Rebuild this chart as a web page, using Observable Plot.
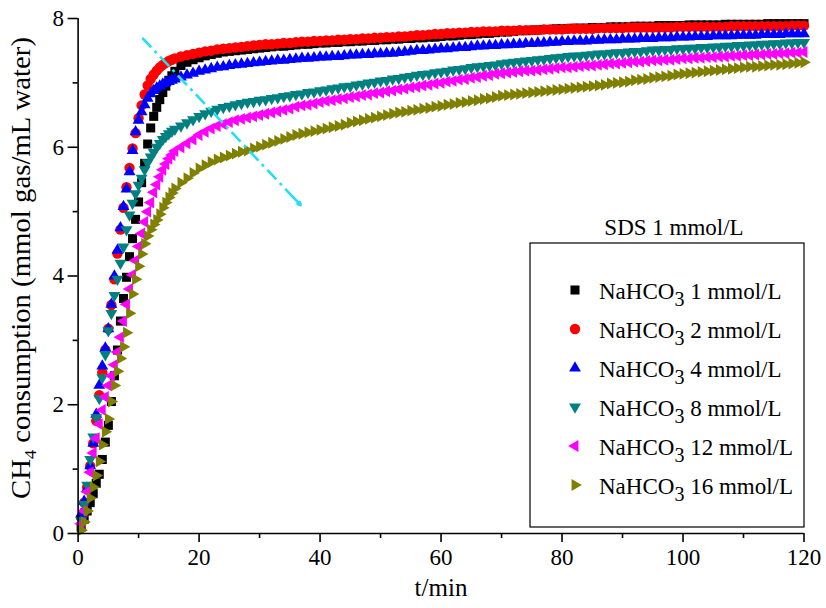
<!DOCTYPE html>
<html><head><meta charset="utf-8">
<script src="https://cdn.jsdelivr.net/npm/d3@7"></script>
<script src="https://cdn.jsdelivr.net/npm/@observablehq/plot@0.6"></script>
<style>
html,body{margin:0;padding:0;background:#fff;}
#chart{position:relative;width:826px;height:608px;overflow:hidden;}
</style></head><body><div id="chart"></div>
<script>
// time (min)
const times = [0.5,1,1.5,2,2.5,3,3.5,4,4.5,5,5.5,6,6.5,7,7.5,8,8.5,9,9.5,10,10.5,11,11.5,12,12.5,13,13.5,14,14.5,15,15.5,16,
17,18,19,20,21,22,23,24,25,26,27,28,29,30,31,32,33,34,35,36,37,38,39,40,41,42,43,44,45,46,47,48,49,50,
51,52,53,54,55,56,57,58,59,60,61,62,63,64,65,66,67,68,69,70,71,72,73,74,75,76,77,78,79,80,81,82,83,84,85,86,87,88,89,90,
91,92,93,94,95,96,97,98,99,100,101,102,103,104,105,106,107,108,109,110,111,112,113,114,115,116,117,118,119,120];

// CH4 consumption (mmol gas / mL water)
const nahco3_1 = [0.10,0.22,0.35,0.48,0.62,0.78,0.92,1.15,1.42,1.68,2.05,2.45,2.85,3.30,3.65,3.98,4.30,4.58,4.88,5.15,5.45,5.75,6.05,6.30,6.48,6.62,6.74,6.85,6.95,7.04,7.11,7.18,
7.27,7.32,7.36,7.39,7.42,7.44,7.46,7.48,7.49,7.50,
7.51,7.52,7.53,7.54,7.55,7.56,7.57,7.57,7.58,7.59,
7.60,7.60,7.61,7.62,7.62,7.63,7.63,7.64,7.64,7.65,
7.65,7.66,7.66,7.67,7.67,7.68,7.68,7.69,7.69,7.70,
7.70,7.71,7.71,7.72,7.73,7.73,7.74,7.75,7.75,7.76,
7.77,7.77,7.78,7.79,7.79,7.80,7.81,7.81,7.82,7.82,
7.83,7.83,7.84,7.84,7.84,7.85,7.85,7.85,7.86,7.86,
7.86,7.87,7.87,7.87,7.87,7.88,7.88,7.88,7.88,7.89,
7.89,7.89,7.89,7.89,7.90,7.90,7.90,7.90,7.90,7.90,
7.91,7.91,7.91,7.91,7.91,7.91,7.91,7.92,7.92,7.92,
7.92,7.92,7.92,7.92];
const nahco3_2 = [0.25,0.48,0.72,1.05,1.40,1.75,2.15,2.50,2.85,3.18,3.55,3.95,4.35,4.72,5.06,5.38,5.68,5.98,6.22,6.45,6.65,6.82,6.96,7.06,7.13,7.19,7.24,7.28,7.31,7.34,7.36,7.38,
7.41,7.43,7.45,7.47,7.49,7.50,7.52,7.53,7.54,7.55,
7.56,7.57,7.58,7.59,7.60,7.60,7.61,7.62,7.62,7.63,
7.64,7.64,7.65,7.65,7.66,7.66,7.67,7.67,7.68,7.68,
7.69,7.69,7.70,7.70,7.71,7.71,7.72,7.72,7.73,7.74,
7.74,7.75,7.76,7.76,7.77,7.77,7.78,7.78,7.79,7.79,
7.80,7.80,7.80,7.81,7.81,7.81,7.82,7.82,7.82,7.82,
7.83,7.83,7.83,7.83,7.84,7.84,7.84,7.84,7.84,7.85,
7.85,7.85,7.85,7.85,7.86,7.86,7.86,7.86,7.86,7.86,
7.86,7.86,7.87,7.87,7.87,7.87,7.87,7.87,7.87,7.87,
7.87,7.88,7.88,7.88,7.88,7.88,7.88,7.88,7.88,7.88,
7.88,7.89,7.89,7.89];
const nahco3_4 = [0.30,0.50,0.70,1.05,1.40,1.85,2.30,2.60,2.88,3.18,3.56,4.00,4.40,4.75,5.08,5.35,5.62,5.95,6.24,6.42,6.55,6.66,6.76,6.83,6.88,6.92,6.95,6.98,7.00,7.02,7.04,7.06,
7.09,7.12,7.15,7.18,7.20,7.22,7.24,7.25,7.27,7.28,
7.29,7.30,7.31,7.32,7.33,7.34,7.35,7.35,7.36,7.37,
7.38,7.38,7.39,7.40,7.40,7.41,7.41,7.42,7.43,7.43,
7.44,7.44,7.45,7.45,7.46,7.46,7.47,7.48,7.49,7.50,
7.50,7.51,7.52,7.53,7.53,7.54,7.55,7.55,7.56,7.57,
7.57,7.58,7.58,7.59,7.59,7.60,7.60,7.61,7.61,7.62,
7.62,7.63,7.63,7.64,7.64,7.65,7.65,7.65,7.66,7.66,
7.67,7.67,7.67,7.68,7.68,7.68,7.69,7.69,7.69,7.70,
7.70,7.70,7.71,7.71,7.71,7.72,7.72,7.72,7.73,7.73,
7.73,7.73,7.74,7.74,7.74,7.74,7.75,7.75,7.75,7.75,
7.76,7.76,7.76,7.76];
const nahco3_8 = [0.20,0.45,0.75,1.15,1.50,1.80,2.10,2.42,2.78,3.15,3.42,3.70,3.95,4.20,4.45,4.72,4.95,5.13,5.28,5.41,5.52,5.65,5.76,5.85,5.92,6.00,6.06,6.12,6.17,6.21,6.25,6.28,
6.33,6.38,6.43,6.48,6.52,6.56,6.59,6.62,6.64,6.66,
6.68,6.70,6.71,6.73,6.74,6.76,6.77,6.79,6.80,6.82,
6.83,6.85,6.86,6.88,6.89,6.91,6.92,6.94,6.95,6.97,
6.98,7.00,7.01,7.03,7.04,7.06,7.07,7.09,7.10,7.12,
7.13,7.14,7.16,7.17,7.18,7.20,7.21,7.22,7.24,7.25,
7.26,7.27,7.28,7.30,7.31,7.32,7.33,7.34,7.35,7.36,
7.37,7.38,7.39,7.40,7.41,7.42,7.42,7.43,7.44,7.45,
7.45,7.46,7.47,7.47,7.48,7.49,7.49,7.50,7.51,7.51,
7.52,7.52,7.53,7.53,7.54,7.54,7.55,7.55,7.56,7.56,
7.57,7.57,7.58,7.58,7.59,7.59,7.60,7.60,7.61,7.61,
7.62,7.62,7.63,7.63];
const nahco3_12 = [0.15,0.35,0.65,0.95,1.25,1.48,1.70,1.92,2.12,2.30,2.45,2.62,2.82,3.05,3.30,3.56,3.80,4.02,4.24,4.46,4.66,4.84,5.00,5.14,5.30,5.42,5.54,5.65,5.74,5.82,5.88,5.94,
6.00,6.06,6.12,6.19,6.24,6.29,6.33,6.36,6.39,6.42,
6.44,6.46,6.48,6.50,6.52,6.54,6.56,6.58,6.60,6.63,
6.65,6.66,6.68,6.70,6.72,6.73,6.75,6.76,6.78,6.79,
6.81,6.82,6.84,6.85,6.87,6.88,6.90,6.91,6.93,6.94,
6.96,6.97,6.99,7.00,7.02,7.03,7.05,7.06,7.08,7.09,
7.11,7.12,7.14,7.15,7.16,7.17,7.18,7.19,7.19,7.20,
7.21,7.22,7.23,7.24,7.24,7.25,7.26,7.27,7.27,7.28,
7.29,7.30,7.30,7.31,7.32,7.33,7.33,7.34,7.35,7.35,
7.36,7.36,7.37,7.38,7.38,7.39,7.39,7.40,7.40,7.41,
7.41,7.42,7.42,7.43,7.43,7.44,7.44,7.45,7.45,7.46,
7.46,7.47,7.47,7.48];
const nahco3_16 = [0.05,0.18,0.35,0.55,0.72,0.90,1.12,1.38,1.58,1.78,2.05,2.30,2.52,2.72,2.90,3.12,3.42,3.72,3.95,4.15,4.34,4.50,4.62,4.72,4.80,4.87,4.96,5.06,5.14,5.22,5.29,5.36,
5.45,5.52,5.60,5.67,5.72,5.77,5.81,5.84,5.87,5.90,
5.93,5.95,5.98,6.01,6.04,6.07,6.10,6.13,6.16,6.19,
6.21,6.23,6.25,6.27,6.29,6.31,6.33,6.35,6.38,6.40,
6.42,6.44,6.46,6.48,6.50,6.52,6.54,6.55,6.57,6.58,
6.60,6.61,6.63,6.64,6.66,6.67,6.69,6.70,6.72,6.73,
6.75,6.76,6.78,6.80,6.81,6.82,6.83,6.84,6.85,6.86,
6.87,6.88,6.89,6.90,6.91,6.92,6.93,6.94,6.95,6.96,
6.97,6.99,7.00,7.01,7.02,7.04,7.05,7.06,7.08,7.09,
7.10,7.11,7.13,7.14,7.15,7.16,7.17,7.18,7.19,7.20,
7.21,7.22,7.23,7.24,7.25,7.25,7.26,7.27,7.28,7.28,
7.29,7.30,7.31,7.32];

const seriesValues = [nahco3_1, nahco3_2, nahco3_4, nahco3_8, nahco3_12, nahco3_16];
const seriesConc = ["1 mmol/L", "2 mmol/L", "4 mmol/L", "8 mmol/L", "12 mmol/L", "16 mmol/L"];
const seriesColors = ["#000000", "#ff0000", "#0000ff", "#008080", "#ff00ff", "#808000"];
const seriesSymbols = ["square", "circle", "triangle", "triangle", "triangle", "triangle"];
const seriesRotate = [0, 0, 0, 180, -90, 90];
const seriesR = [5.1, 5.2, 4.4, 4.4, 4.4, 4.4];

const xTicks = [0, 20, 40, 60, 80, 100, 120];
const xMinor = [10, 30, 50, 70, 90, 110];
const yTicks = [0, 2, 4, 6, 8];
const yMinor = [1, 3, 5, 7];

const legendTitle = "SDS 1 mmol/L";
const yLabelMain = "CH", yLabelSub = "4", yLabelRest = " consumption (mmol gas/mL water)";
const xLabel = "t/min";

// trend arrow (data coordinates)
const arrowStart = {t: 10.6, v: 7.70};
const arrowEnd = {t: 36.8, v: 5.10};

// ---------- build ----------
const FONT = "'Liberation Serif','Times New Roman',serif";
const rows = seriesValues.map(vals => vals.map((v, j) => ({t: times[j], v})));

const dotMarks = rows.map((data, i) => Plot.dot(data, {
  x: "t", y: "v",
  symbol: seriesSymbols[i],
  r: seriesR[i],
  rotate: seriesRotate[i],
  fill: seriesColors[i],
  stroke: "none"
}));

const f = 0.045;
const headStart = {t: arrowEnd.t - f * (arrowEnd.t - arrowStart.t), v: arrowEnd.v - f * (arrowEnd.v - arrowStart.v)};

const plot = Plot.plot({
  width: 826, height: 608,
  marginLeft: 77.6, marginRight: 22.5, marginTop: 18, marginBottom: 75,
  x: {domain: [0, 120]},
  y: {domain: [0, 8]},
  style: {fontFamily: FONT, fontSize: "23px", color: "#000", background: "#fff", overflow: "visible"},
  marks: [
    ...dotMarks,
    Plot.link([{a: arrowStart, b: arrowEnd}], {
      x1: d => d.a.t, y1: d => d.a.v, x2: d => d.b.t, y2: d => d.b.v,
      stroke: "#22e0f0", strokeWidth: 2.6, strokeDasharray: "13,5,3,5"
    }),
    Plot.arrow([{a: headStart, b: arrowEnd}], {
      x1: d => d.a.t, y1: d => d.a.v, x2: d => d.b.t, y2: d => d.b.v,
      stroke: "#22e0f0", strokeWidth: 2.6, headLength: 16, headAngle: 50
    }),
    Plot.ruleY([0], {stroke: "#000", strokeWidth: 1.6}),
    Plot.ruleX([0], {stroke: "#000", strokeWidth: 1.6}),
    Plot.axisX({ticks: xTicks, tickSize: 9, tickPadding: 6, label: null, strokeWidth: 1.6, fontSize: 23}),
    Plot.axisX({ticks: xMinor, tickSize: 5, tickFormat: () => "", label: null, strokeWidth: 1.6}),
    Plot.axisY({ticks: yTicks, tickSize: 10, tickPadding: 4, label: null, strokeWidth: 1.6, fontSize: 23}),
    Plot.axisY({ticks: yMinor, tickSize: 5, tickFormat: () => "", label: null, strokeWidth: 1.6})
  ]
});
document.getElementById("chart").appendChild(plot);

// ---------- labels & legend ----------
const svg = d3.select(plot);
const g = svg.append("g").attr("font-family", FONT).attr("fill", "#000").attr("text-anchor", "start");

// y label
const yl = g.append("text")
  .attr("transform", "translate(30,268) rotate(-90)")
  .attr("text-anchor", "middle")
  .attr("font-size", 27)
  .attr("textLength", 462)
  .attr("lengthAdjust", "spacingAndGlyphs");
yl.append("tspan").text(yLabelMain);
yl.append("tspan").attr("font-size", 17).attr("dy", 6).text(yLabelSub);
yl.append("tspan").attr("dy", -6).text(yLabelRest);

// x label
g.append("text").attr("x", 441).attr("y", 596).attr("text-anchor", "middle")
  .attr("font-size", 25).text(xLabel);

// legend
const box = {x: 530, y: 243, w: 274, h: 284};
g.append("text").attr("x", 674).attr("y", 235).attr("text-anchor", "middle")
  .attr("font-size", 23).text(legendTitle);
g.append("rect").attr("x", box.x).attr("y", box.y).attr("width", box.w).attr("height", box.h)
  .attr("fill", "#fff").attr("stroke", "#000").attr("stroke-width", 1.2);

const symMap = {square: d3.symbolSquare, circle: d3.symbolCircle, triangle: d3.symbolTriangle};
seriesConc.forEach((c, i) => {
  const cy = 290 + i * 39;
  const r = seriesR[i];
  g.append("path")
    .attr("d", d3.symbol(symMap[seriesSymbols[i]], Math.PI * r * r)())
    .attr("transform", `translate(575,${cy}) rotate(${seriesRotate[i]})`)
    .attr("fill", seriesColors[i]);
  const t = g.append("text").attr("x", 599).attr("y", cy + 9).attr("font-size", 23)
    .attr("text-anchor", "start");
  t.append("tspan").text("NaHCO");
  t.append("tspan").attr("dy", 7).attr("font-size", 20).text("3");
  t.append("tspan").attr("dy", -7).text(" " + c);
});
</script>
</body></html>
